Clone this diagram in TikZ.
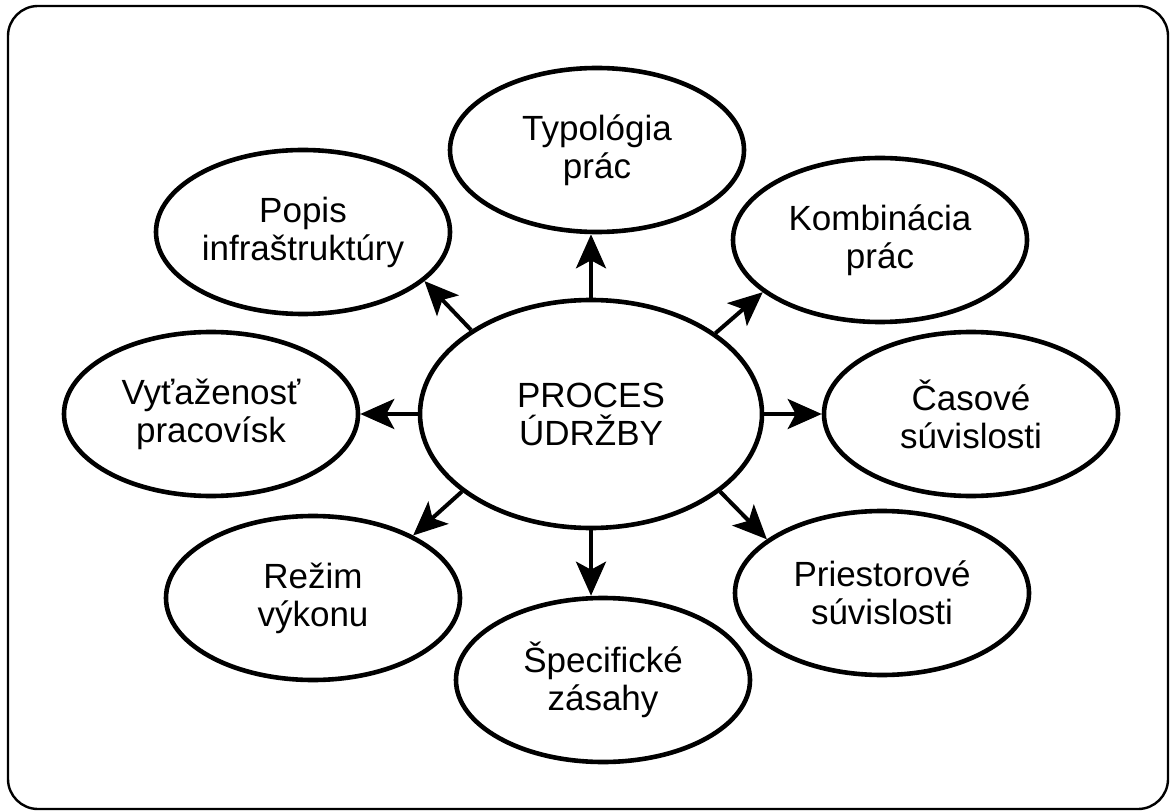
\documentclass[tikz,border=0pt]{standalone}
\usepackage{fontspec}
\setmainfont{Liberation Sans}
\usetikzlibrary{arrows.meta,shapes.geometric}

\begin{document}
\begin{tikzpicture}[x=0.5pt, y=-0.5pt,
  topic/.style={ellipse, draw, line width=2.3pt, inner sep=0pt,
    minimum width=147pt, minimum height=82pt, align=center,
    font=\fontsize{17.5}{19}\selectfont},
  core/.style={topic, minimum width=171pt, minimum height=114pt},
  link/.style={-{Stealth[length=17pt,width=15pt,inset=4pt]}, line width=2pt}]
  \useasboundingbox (0,0) rectangle (1171,812);

  % Frame
  \draw[line width=1.2pt, rounded corners=15pt] (8,6) rectangle (1168,809);

  % Centre and topics
  \node[core] (proc) at (591,414) {PROCES\\ÚDRŽBY};
  \node[topic] (typ) at (597,150) {Typológia\\prác};
  \node[topic] (popis) at (303,232) {Popis\\infraštruktúry};
  \node[topic] (komb) at (880,240) {Kombinácia\\prác};
  \node[topic] (vyt) at (211,414) {Vyťaženosť\\pracovísk};
  \node[topic] (cas) at (971,414) {Časové\\súvislosti};
  \node[topic] (rezim) at (313,598) {Režim\\výkonu};
  \node[topic] (spec) at (603,680) {Špecifické\\zásahy};
  \node[topic] (priest) at (882,593) {Priestorové\\súvislosti};

  % Arrows
  \draw[link] (proc.north) -- (proc.north |- typ.south);
  \draw[link] (proc.145) -- (popis.-22);
  \draw[link] (proc.33) -- (komb.204);
  \draw[link] (proc.west) -- (vyt.east);
  \draw[link] (proc.east) -- (cas.west);
  \draw[link] (proc.211.5) -- (rezim.32);
  \draw[link] (proc.south) -- (proc.south |- spec.north);
  \draw[link] (proc.-31.5) -- (priest.155);
\end{tikzpicture}
\end{document}
